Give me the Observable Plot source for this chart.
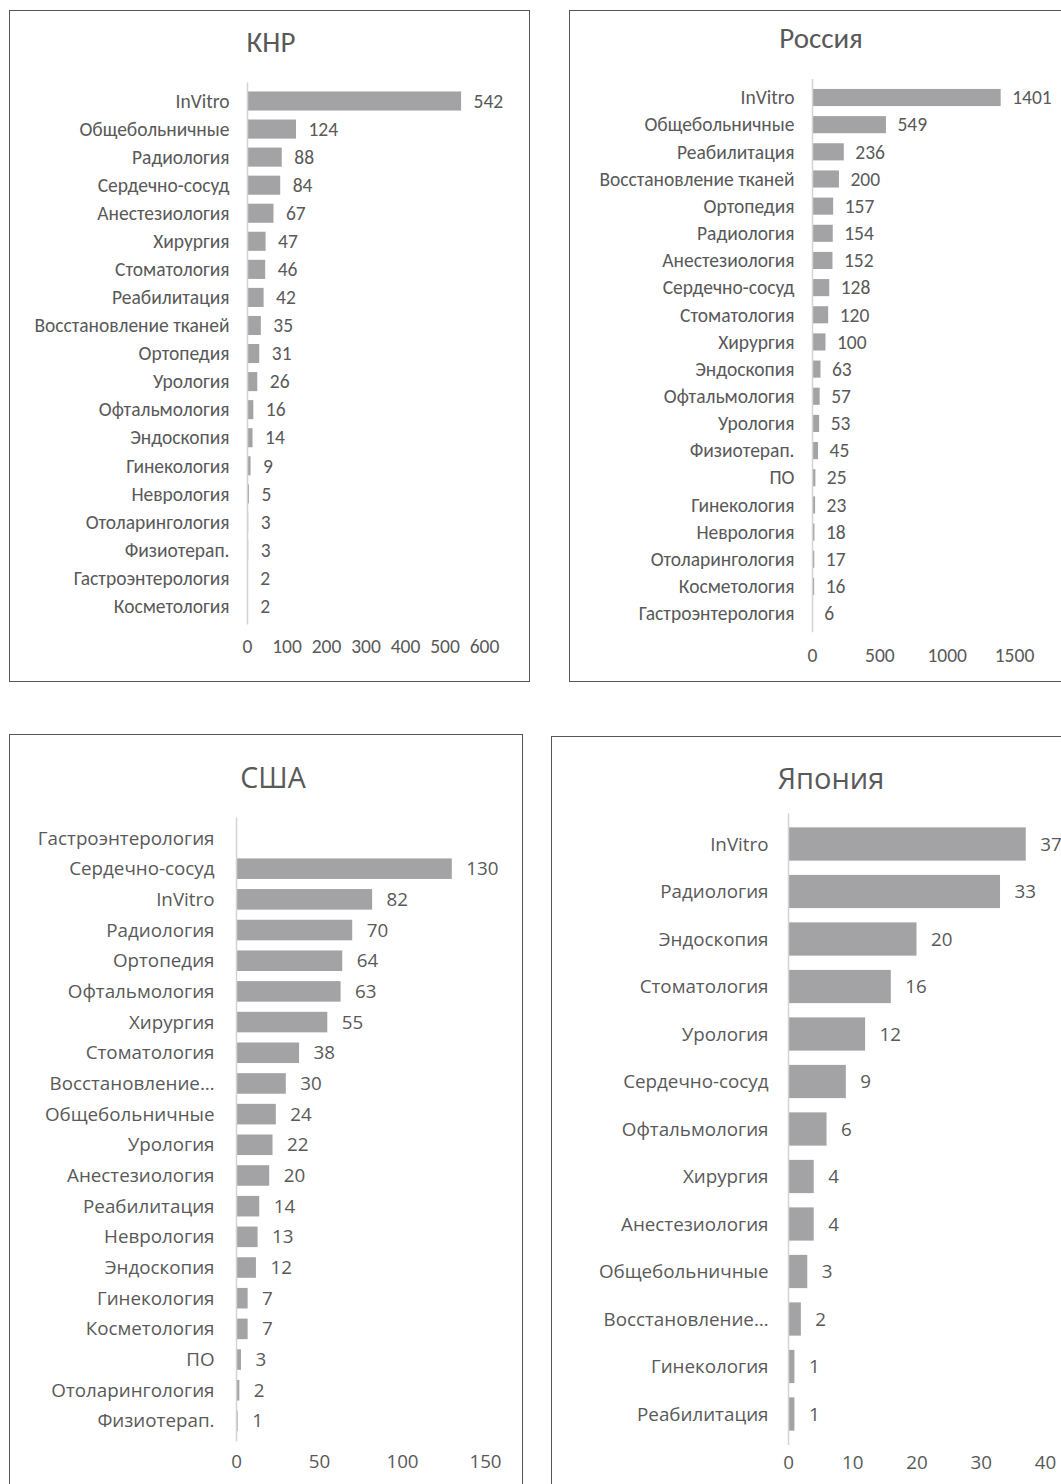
<!DOCTYPE html>
<html>
<head>
<meta charset="utf-8">
<script src="https://cdn.jsdelivr.net/npm/d3@7"></script>
<script src="https://cdn.jsdelivr.net/npm/@observablehq/plot@0.6"></script>
<style>
  html, body { margin: 0; padding: 0; background: #fff; }
  body { width: 1061px; height: 1484px; position: relative; overflow: hidden; }
  .panel { position: absolute; border: 1px solid #555; box-sizing: border-box; background: #fff; }
  .title { position: absolute; transform: translate(-50%, -50%); white-space: nowrap; color: #595959; }
  .panel svg { position: absolute; left: 0; top: 0; max-width: none !important; }
</style>
</head>
<body>
<script>
// ---- Data ----
const chinaCategories = ["InVitro","Общебольничные","Радиология","Сердечно-сосуд","Анестезиология","Хирургия","Стоматология","Реабилитация","Восстановление тканей","Ортопедия","Урология","Офтальмология","Эндоскопия","Гинекология","Неврология","Отоларингология","Физиотерап.","Гастроэнтерология","Косметология"];
const chinaValues = [542,124,88,84,67,47,46,42,35,31,26,16,14,9,5,3,3,2,2];
const chinaTicks = [0,100,200,300,400,500,600];

const russiaCategories = ["InVitro","Общебольничные","Реабилитация","Восстановление тканей","Ортопедия","Радиология","Анестезиология","Сердечно-сосуд","Стоматология","Хирургия","Эндоскопия","Офтальмология","Урология","Физиотерап.","ПО","Гинекология","Неврология","Отоларингология","Косметология","Гастроэнтерология"];
const russiaValues = [1401,549,236,200,157,154,152,128,120,100,63,57,53,45,25,23,18,17,16,6];
const russiaTicks = [0,500,1000,1500];

const usaCategories = ["Гастроэнтерология","Сердечно-сосуд","InVitro","Радиология","Ортопедия","Офтальмология","Хирургия","Стоматология","Восстановление…","Общебольничные","Урология","Анестезиология","Реабилитация","Неврология","Эндоскопия","Гинекология","Косметология","ПО","Отоларингология","Физиотерап."];
const usaValues = [null,130,82,70,64,63,55,38,30,24,22,20,14,13,12,7,7,3,2,1];
const usaTicks = [0,50,100,150];

const japanCategories = ["InVitro","Радиология","Эндоскопия","Стоматология","Урология","Сердечно-сосуд","Офтальмология","Хирургия","Анестезиология","Общебольничные","Восстановление…","Гинекология","Реабилитация"];
const japanValues = [37,33,20,16,12,9,6,4,4,3,2,1,1];
const japanTicks = [0,10,20,30,40];

const titles = ["КНР","Россия","США","Япония"];

// ---- Drawing ----
const BAR = "#a3a3a5";
const TEXT = "#595959";

function panel(cfg) {
  const div = document.createElement("div");
  div.className = "panel";
  Object.assign(div.style, {left: cfg.left + "px", top: cfg.top + "px", width: cfg.width + "px", height: cfg.height + "px"});
  document.body.appendChild(div);

  const n = cfg.cats.length;
  const s = cfg.step, p = cfg.pad;
  const a = cfg.c1 - s * (1 + p) / 2;
  const b = a + s * (n + p);
  const data = cfg.cats.map((c, i) => ({cat: c, value: cfg.vals[i]}));
  const shown = data.filter(d => d.value != null);

  const plot = Plot.plot({
    width: cfg.width,
    height: cfg.height,
    marginLeft: cfg.x0,
    marginRight: cfg.width - cfg.x1,
    marginTop: a,
    marginBottom: cfg.height - b,
    style: {fontFamily: cfg.font, fontSize: cfg.fontSize + "px", color: TEXT, background: "transparent", overflow: "visible"},
    x: {domain: [cfg.ticks[0], cfg.ticks[cfg.ticks.length - 1]]},
    y: {domain: cfg.cats, padding: p, round: false},
    marks: [
      Plot.barX(shown, {x: "value", y: "cat", fill: BAR}),
      Plot.ruleX([0], {stroke: "#d4d4d4", strokeWidth: 1.5}),
      Plot.text(shown, {x: "value", y: "cat", text: d => String(d.value), textAnchor: "start", dx: cfg.valueGap, fill: TEXT}),
      Plot.axisY({tickSize: 0, tickPadding: cfg.labelGap, label: null, fill: TEXT}),
      Plot.axisX({ticks: cfg.ticks, tickFormat: d => String(d), tickSize: 0, tickPadding: cfg.tickY - b - 0.36 * cfg.fontSize, label: null, fill: TEXT})
    ]
  });
  div.appendChild(plot);

  const t = document.createElement("div");
  t.className = "title";
  t.textContent = cfg.title;
  Object.assign(t.style, {left: cfg.titleX + "px", top: cfg.titleY + "px", fontFamily: cfg.font, fontSize: cfg.titleSize + "px"});
  div.appendChild(t);
}

const narrowFont = "Carlito, 'Liberation Sans', Arial, sans-serif";
const wideFont = "'Open Sans', 'Noto Sans', sans-serif";

panel({left: 9, top: 10, width: 521, height: 672, title: titles[0], titleX: 261, titleY: 31, titleSize: 29,
  font: narrowFont, fontSize: 19.5, cats: chinaCategories, vals: chinaValues, ticks: chinaTicks,
  x0: 237, x1: 474, c1: 90, step: 28.06, pad: 0.32, tickY: 635, labelGap: 18, valueGap: 12});

panel({left: 569, top: 10, width: 503, height: 672, title: titles[1], titleX: 251, titleY: 27, titleSize: 29,
  font: narrowFont, fontSize: 19.5, cats: russiaCategories, vals: russiaValues, ticks: russiaTicks,
  x0: 242, x1: 444, c1: 86.5, step: 27.16, pad: 0.37, tickY: 643.5, labelGap: 18, valueGap: 11});

panel({left: 9, top: 734, width: 514, height: 780, title: titles[2], titleX: 263, titleY: 42, titleSize: 28.5,
  font: wideFont, fontSize: 18.8, cats: usaCategories, vals: usaValues, ticks: usaTicks,
  x0: 226, x1: 475, c1: 103, step: 30.68, pad: 0.33, tickY: 726, labelGap: 22, valueGap: 14});

panel({left: 551, top: 736, width: 558, height: 780, title: titles[3], titleX: 279, titleY: 40, titleSize: 29,
  font: wideFont, fontSize: 18.8, cats: japanCategories, vals: japanValues, ticks: japanTicks,
  x0: 236, x1: 493, c1: 107, step: 47.5, pad: 0.30, tickY: 725, labelGap: 20, valueGap: 14});
</script>
</body>
</html>
